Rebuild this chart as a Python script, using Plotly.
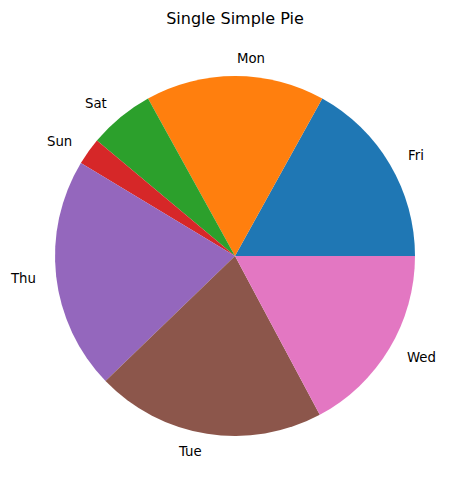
import math
import plotly.graph_objects as go

labels = ["Fri", "Mon", "Sat", "Sun", "Thu", "Tue", "Wed"]
values = [61.0, 57.9, 21.2, 8.8, 75.1, 74.1, 61.9]
colors = ["#1f77b4", "#ff7f0e", "#2ca02c", "#d62728", "#9467bd", "#8c564b", "#e377c2"]
title = "Single Simple Pie"

W, H = 469, 491
L, R, T, B = 55, 54, 76, 55

total = sum(values)
# plotly (counterclockwise) ends the first slice at the rotation angle;
# shift so the first slice starts at 3 o'clock like matplotlib
rot = 90 - values[0] / total * 360

fig = go.Figure(go.Pie(
    labels=labels, values=values, sort=False, direction="counterclockwise",
    rotation=rot, marker=dict(colors=colors, line=dict(width=0)),
    textinfo="none", hoverinfo="label+percent", showlegend=False,
))

cum = 0.0
annotations = []
for lab, v in zip(labels, values):
    mid = (cum + v / 2) / total * 2 * math.pi
    cum += v
    cx, cy = math.cos(mid), math.sin(mid)
    xp = 0.5 + 0.5 * 1.1 * cx
    yp = 0.5 + 0.5 * 1.1 * cy
    annotations.append(dict(
        x=xp, y=yp, xref="paper", yref="paper", text=lab, showarrow=False,
        xanchor="left" if cx > 0 else "right", yanchor="middle",
        font=dict(family="DejaVu Sans", size=13.3, color="black"),
    ))

fig.update_layout(
    width=W, height=H, margin=dict(l=L, r=R, t=T, b=B, autoexpand=False),
    paper_bgcolor="white", plot_bgcolor="white",
    title=dict(text=title, x=0.5, xref="paper", xanchor="center",
               y=1 - 18 / H, yref="container", yanchor="middle",
               font=dict(family="DejaVu Sans", size=16, color="black")),
    annotations=annotations,
)
fig.write_html("out.html", config={"displayModeBar": False})
